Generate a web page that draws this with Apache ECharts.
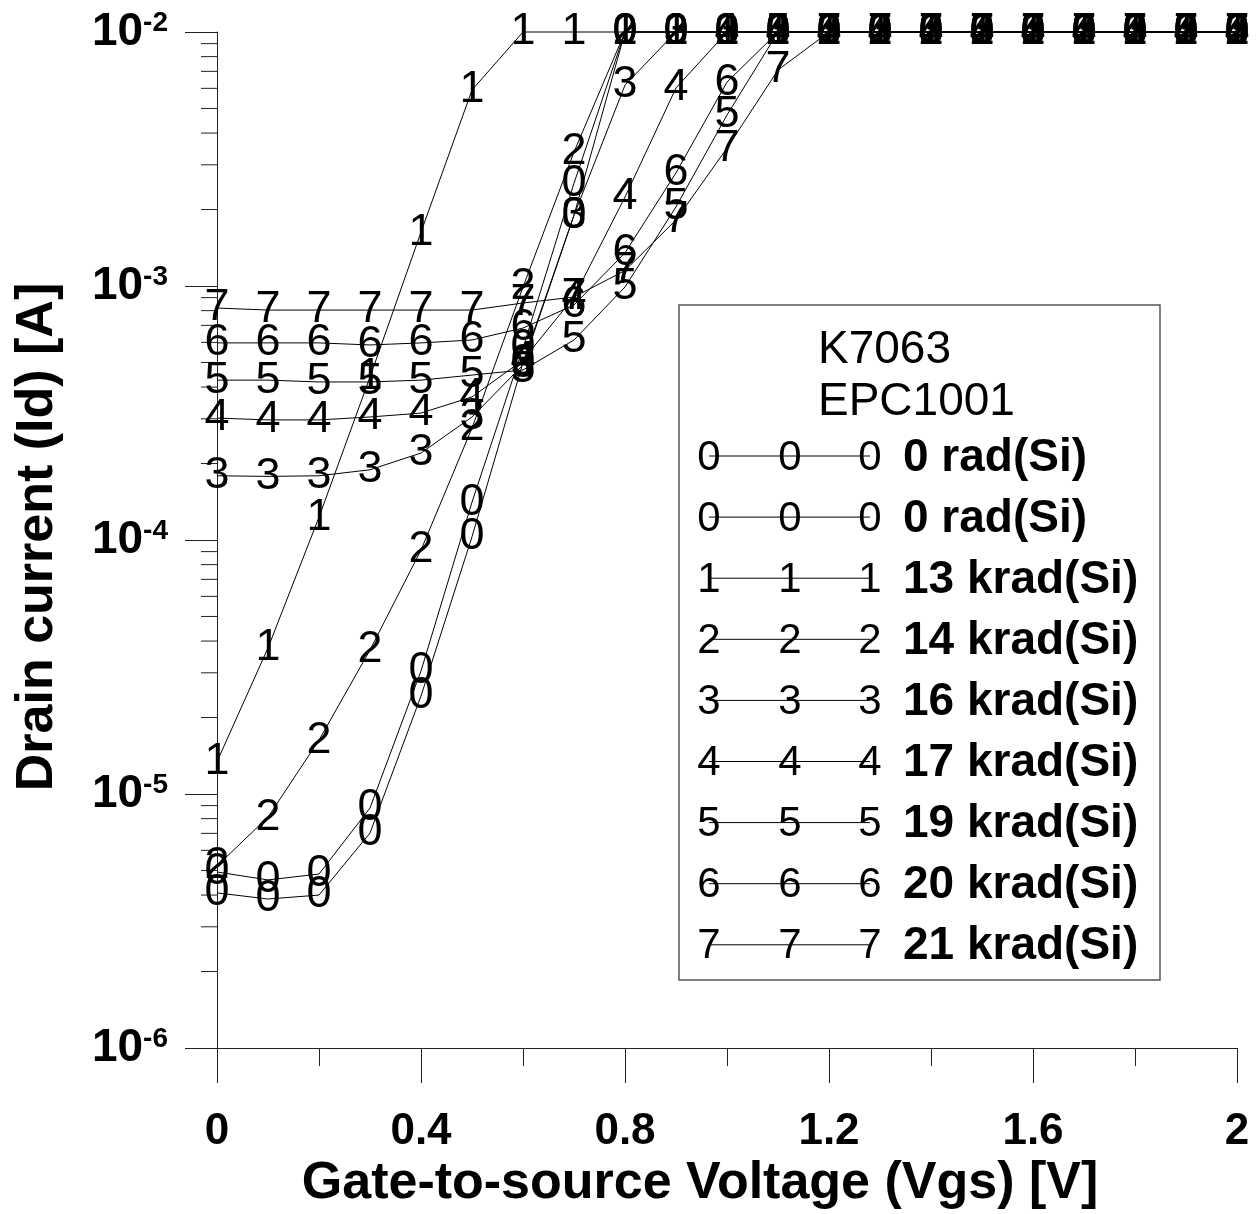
<!DOCTYPE html>
<html>
<head>
<meta charset="utf-8">
<script src="https://cdn.jsdelivr.net/npm/echarts@6/dist/echarts.min.js"></script>
<style>html,body{margin:0;padding:0;background:#fff;}#c{width:1259px;height:1214px;}</style>
</head>
<body>
<div id="c"></div>
<script>
// ---- data ----
const xValues = [0, 0.1, 0.2, 0.3, 0.4, 0.5, 0.6, 0.7, 0.8, 0.9, 1.0, 1.1, 1.2, 1.3, 1.4, 1.5, 1.6, 1.7, 1.8, 1.9, 2.0];
const s0a = [4.93e-6, 4.59e-6, 4.84e-6, 8.81e-6, 3.05e-5, 1.41e-4, 5.70e-4, 2.54e-3, 1e-2, 1e-2, 1e-2, 1e-2, 1e-2, 1e-2, 1e-2, 1e-2, 1e-2, 1e-2, 1e-2, 1e-2, 1e-2];
const s0b = [4.08e-6, 3.86e-6, 4.00e-6, 7.02e-6, 2.43e-5, 1.03e-4, 5.00e-4, 1.90e-3, 1e-2, 1e-2, 1e-2, 1e-2, 1e-2, 1e-2, 1e-2, 1e-2, 1e-2, 1e-2, 1e-2, 1e-2, 1e-2];
const s1 = [1.34e-5, 3.76e-5, 1.23e-4, 4.38e-4, 1.63e-3, 5.91e-3, 1e-2, 1e-2, 1e-2, 1e-2, 1e-2, 1e-2, 1e-2, 1e-2, 1e-2, 1e-2, 1e-2, 1e-2, 1e-2, 1e-2, 1e-2];
const s2 = [5.21e-6, 8.11e-6, 1.63e-5, 3.69e-5, 9.13e-5, 2.76e-4, 9.91e-4, 3.37e-3, 1e-2, 1e-2, 1e-2, 1e-2, 1e-2, 1e-2, 1e-2, 1e-2, 1e-2, 1e-2, 1e-2, 1e-2, 1e-2];
const s3 = [1.79e-4, 1.78e-4, 1.79e-4, 1.89e-4, 2.20e-4, 3.05e-4, 4.89e-4, 1.90e-3, 6.18e-3, 1e-2, 1e-2, 1e-2, 1e-2, 1e-2, 1e-2, 1e-2, 1e-2, 1e-2, 1e-2, 1e-2, 1e-2];
const s4 = [3.02e-4, 2.97e-4, 2.97e-4, 3.05e-4, 3.16e-4, 3.66e-4, 5.11e-4, 9.05e-4, 2.24e-3, 6.02e-3, 1e-2, 1e-2, 1e-2, 1e-2, 1e-2, 1e-2, 1e-2, 1e-2, 1e-2, 1e-2, 1e-2];
const s5 = [4.26e-4, 4.26e-4, 4.19e-4, 4.19e-4, 4.26e-4, 4.46e-4, 4.67e-4, 6.13e-4, 9.91e-4, 2.05e-3, 4.71e-3, 1e-2, 1e-2, 1e-2, 1e-2, 1e-2, 1e-2, 1e-2, 1e-2, 1e-2, 1e-2];
const s6 = [5.97e-4, 5.97e-4, 5.97e-4, 5.86e-4, 5.97e-4, 6.13e-4, 6.83e-4, 8.42e-4, 1.35e-3, 2.79e-3, 6.35e-3, 1e-2, 1e-2, 1e-2, 1e-2, 1e-2, 1e-2, 1e-2, 1e-2, 1e-2, 1e-2];
const s7 = [8.19e-4, 8.04e-4, 8.04e-4, 8.04e-4, 8.04e-4, 8.04e-4, 8.57e-4, 9.05e-4, 1.15e-3, 1.82e-3, 3.49e-3, 7.09e-3, 1e-2, 1e-2, 1e-2, 1e-2, 1e-2, 1e-2, 1e-2, 1e-2, 1e-2];

const seriesValues = [s0a, s0b, s1, s2, s3, s4, s5, s6, s7];
const seriesMarkers = ['0', '0', '1', '2', '3', '4', '5', '6', '7'];
const seriesNames = ['0 rad(Si)', '0 rad(Si)', '13 krad(Si)', '14 krad(Si)', '16 krad(Si)', '17 krad(Si)', '19 krad(Si)', '20 krad(Si)', '21 krad(Si)'];
const legendTitle = ['K7063', 'EPC1001'];
const xTickLabels = ['0', '0.4', '0.8', '1.2', '1.6', '2'];
const yMinorTicks = [2e-6, 3e-6, 4e-6, 5e-6, 6e-6, 7e-6, 8e-6, 9e-6,
  2e-5, 3e-5, 4e-5, 5e-5, 6e-5, 7e-5, 8e-5, 9e-5,
  2e-4, 3e-4, 4e-4, 5e-4, 6e-4, 7e-4, 8e-4, 9e-4,
  2e-3, 3e-3, 4e-3, 5e-3, 6e-3, 7e-3, 8e-3, 9e-3];
const xTitle = 'Gate-to-source Voltage (Vgs) [V]';
const yTitle = 'Drain current (Id) [A]';

// ---- chart ----
const FONT = 'Liberation Sans, Arial, sans-serif';
const chart = echarts.init(document.getElementById('c'), null, { renderer: 'canvas' });

const series = seriesValues.map((vals, i) => ({
  type: 'line',
  name: seriesNames[i],
  data: vals.map((v, j) => [xValues[j], v]),
  symbol: 'circle',
  symbolSize: 2,
  showSymbol: true,
  itemStyle: { color: 'rgba(0,0,0,0)' },
  lineStyle: { color: '#000', width: 1 },
  label: {
    show: true,
    position: 'inside',
    formatter: () => seriesMarkers[i],
    color: '#000',
    fontSize: 45,
    fontFamily: FONT,
    fontWeight: 'normal'
  },
  emphasis: { disabled: true },
  silent: true,
  clip: false,
  z: 3
}));

series.push({
  type: 'custom',
  data: yMinorTicks.map(v => [0, v]),
  encode: { x: 0, y: 1 },
  clip: false,
  silent: true,
  renderItem: (params, api) => {
    const p = api.coord([api.value(0), api.value(1)]);
    return {
      type: 'line',
      shape: { x1: p[0] - 16, y1: p[1], x2: p[0], y2: p[1] },
      style: { stroke: '#222', lineWidth: 1 }
    };
  },
  z: 2
});

// legend built from the arrays
const legendEls = [];
legendEls.push({ type: 'rect', shape: { x: 679, y: 305, width: 481, height: 675 }, style: { fill: 'none', stroke: '#555', lineWidth: 1.5 } });
legendTitle.forEach((t, k) => {
  legendEls.push({ type: 'text', x: 818, y: 350 + k * 52, style: { text: t, font: 'normal 46px ' + FONT, fill: '#000', textAlign: 'left', textVerticalAlign: 'middle' } });
});
seriesNames.forEach((n, i) => {
  const y = 456 + i * 61.1;
  legendEls.push({ type: 'line', shape: { x1: 709, y1: y, x2: 870, y2: y }, style: { stroke: '#000', lineWidth: 1 } });
  [709, 790, 870].forEach(x => {
    legendEls.push({ type: 'text', x: x, y: y + 2, style: { text: seriesMarkers[i], font: 'normal 42px ' + FONT, fill: '#000', textAlign: 'center', textVerticalAlign: 'middle' } });
  });
  legendEls.push({ type: 'text', x: 903, y: y + 2, style: { text: n, font: 'bold 46px ' + FONT, fill: '#000', textAlign: 'left', textVerticalAlign: 'middle' } });
});
legendEls.push({ type: 'text', x: 700, y: 1184, style: { text: xTitle, font: 'bold 52px ' + FONT, fill: '#000', textAlign: 'center', textVerticalAlign: 'middle' } });
legendEls.push({ type: 'text', x: 38, y: 537, rotation: Math.PI / 2, style: { text: yTitle, font: 'bold 52px ' + FONT, fill: '#000', textAlign: 'center', textVerticalAlign: 'middle' } });

chart.setOption({
  animation: false,
  backgroundColor: '#fff',
  grid: { left: 217, right: 22, top: 32, bottom: 166, containLabel: false },
  xAxis: {
    type: 'value',
    min: 0, max: 2, interval: 0.4,
    axisLine: { show: true, lineStyle: { color: '#222', width: 1 } },
    axisTick: { show: true, length: 35, lineStyle: { color: '#222', width: 1 } },
    minorTick: { show: true, splitNumber: 2, length: 18, lineStyle: { color: '#222', width: 1 } },
    splitLine: { show: false },
    axisLabel: {
      margin: 62,
      fontSize: 44, fontWeight: 'bold', fontFamily: FONT, color: '#000',
      formatter: (v) => xTickLabels[Math.round(v / 0.4)]
    }
  },
  yAxis: {
    type: 'log',
    logBase: 10,
    min: 1e-6, max: 1e-2,
    splitNumber: 4,
    axisLine: { show: true, onZero: false, lineStyle: { color: '#222', width: 1 } },
    axisTick: { show: true, length: 32, lineStyle: { color: '#222', width: 1 } },
    splitLine: { show: false },
    axisLabel: {
      margin: 49,
      formatter: (v) => '{a|10}{b|' + Math.round(Math.log10(v)) + '}',
      rich: {
        a: { fontSize: 46, fontWeight: 'bold', fontFamily: FONT, color: '#000', lineHeight: 46 },
        b: { fontSize: 28, fontWeight: 'bold', fontFamily: FONT, color: '#000', lineHeight: 28, verticalAlign: 'top' }
      }
    }
  },
  graphic: { elements: legendEls },
  series: series
});
</script>
</body>
</html>
